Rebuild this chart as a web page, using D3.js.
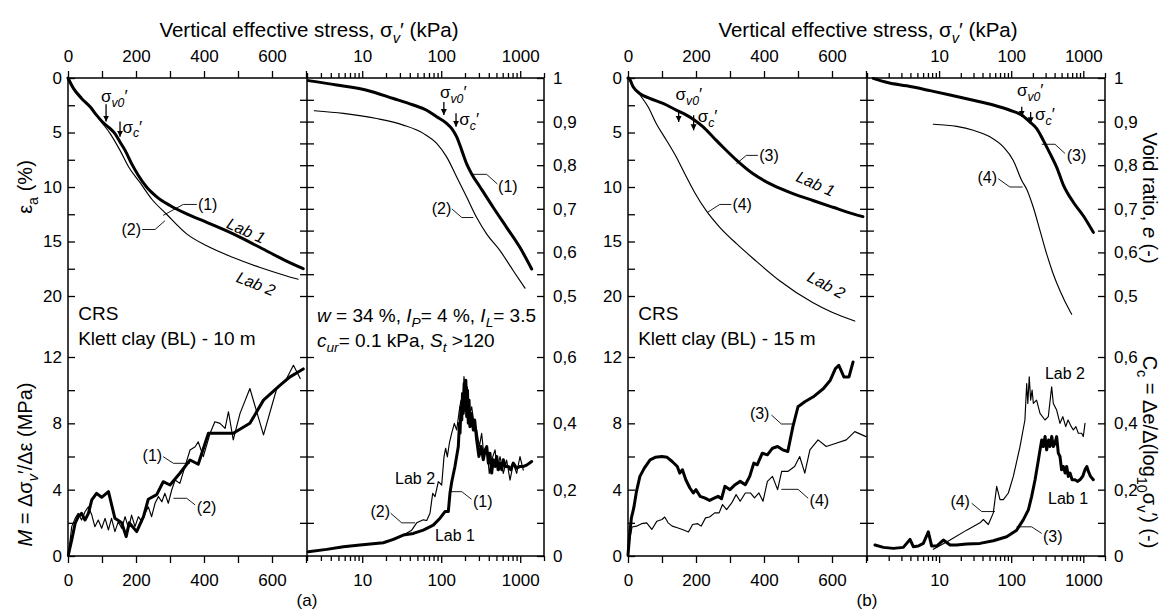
<!DOCTYPE html>
<html><head><meta charset="utf-8">
<script src="https://cdn.jsdelivr.net/npm/d3@7"></script>
<style>
body{margin:0;background:#fff;}
svg text{font-family:"Liberation Sans",Arial,Helvetica,sans-serif;fill:#000;}
</style></head><body>
<script>
// ---------------- DATA ----------------
// (a) 10 m — strain vs stress (kPa, %)
const epsA_lab1 = [[0,0],[16,0.95],[40,1.87],[65,2.64],[84,3.41],[104,4.12],[124,4.64],[138,5.1],[153,5.87],[168,6.64],[187,7.86],[207,8.94],[231,10.0],[261,10.9],[300,11.7],[349,12.47],[408,13.24],[486,14.3],[565,15.55],[643,16.8],[692,17.5]];
const epsA_lab2 = [[0,0],[16,0.95],[40,1.87],[65,2.64],[84,3.41],[100,4.1],[124,5.1],[153,6.64],[178,8.14],[211,9.56],[246,11.1],[290,12.5],[349,14.3],[408,15.4],[486,16.47],[565,17.39],[643,18.16],[677,18.46]];
// (a) void ratio vs stress
const eA_lab1 = [[2.08,0.994],[4.75,0.984],[11.4,0.972],[24.8,0.953],[44.4,0.938],[65.5,0.926],[87.6,0.911],[117,0.896],[136,0.884],[157,0.865],[182,0.834],[210,0.803],[243,0.78],[310,0.75],[456,0.703],[675,0.657],[994,0.611],[1397,0.562]];
const eA_lab2 = [[2.48,0.925],[5.77,0.919],[15.2,0.907],[33.1,0.892],[59.3,0.873],[87.6,0.85],[117,0.819],[157,0.773],[210,0.727],[281,0.68],[377,0.642],[555,0.604],[817,0.558],[1149,0.518]];
// (a) modulus M (MPa)
const MA_lab1 = [[1,0.06],[11,0.97],[21,1.97],[30,2.37],[40,2.57],[50,2.17],[60,2.57],[70,3.38],[84,3.78],[99,3.54],[119,3.88],[138,2.27],[158,2.0],[171,1.17],[180,2.0],[202,1.47],[222,2.37],[236,3.42],[261,3.7],[280,4.48],[300,4.28],[329,4.99],[359,5.79],[383,5.53],[413,7.4],[486,7.4],[535,8.0],[575,9.4],[624,10.3],[653,10.8],[682,11.16],[692,11.28]];
const MA_lab2 = [[1,0.06],[11,1.77],[21,2.27],[30,2.57],[40,2.17],[50,2.67],[60,2.97],[70,2.47],[79,1.77],[89,2.17],[99,1.67],[109,2.27],[119,1.57],[128,2.27],[138,1.47],[148,2.07],[158,1.67],[168,2.37],[178,1.67],[187,2.47],[197,1.77],[207,2.37],[217,2.07],[227,2.57],[236,2.97],[246,2.37],[256,3.18],[266,3.58],[276,3.27],[285,3.78],[295,3.18],[305,3.98],[315,4.58],[329,4.38],[344,5.39],[359,6.39],[374,6.59],[383,6.89],[398,5.99],[418,7.4],[432,8.1],[447,8.0],[462,7.7],[472,8.7],[486,7.0],[506,8.6],[535,10.1],[575,7.3],[614,10.1],[643,10.7],[663,11.5],[683,10.7]];
// (a) compression index Cc
const CcA_lab1 = [[2.08,0.013],[3.55,0.02],[5.77,0.028],[9.38,0.033],[18.5,0.04],[24.8,0.05],[33.1,0.063],[44.4,0.068],[59.3,0.078],[79.4,0.093],[96.6,0.114],[111.6,0.134],[123,0.134],[129,0.189],[136,0.224],[149,0.269],[164.6,0.33],[170,0.40],[173,0.37],[178,0.45],[182,0.41],[186,0.49],[190,0.43],[195,0.52],[200,0.44],[205,0.53],[210,0.42],[215,0.50],[220,0.40],[225,0.47],[231,0.39],[240,0.43],[255,0.38],[265,0.41],[281,0.35],[300,0.30],[320,0.33],[341,0.29],[360,0.32],[377,0.33],[395,0.28],[414,0.31],[435,0.25],[456,0.29],[480,0.27],[504,0.30],[530,0.26],[555,0.28],[585,0.26],[611,0.29],[650,0.27],[707,0.27],[760,0.26],[817,0.28],[900,0.265],[994,0.27],[1100,0.27],[1208,0.274],[1397,0.285]];
const CcA_lab2 = [[2.08,0.013],[9.38,0.033],[18.5,0.04],[33.1,0.063],[42.3,0.078],[48.9,0.10],[59.4,0.109],[65.5,0.107],[72.1,0.129],[78,0.189],[83.4,0.179],[91.9,0.224],[101.4,0.214],[108.4,0.299],[113.8,0.325],[119.5,0.299],[126.8,0.34],[135.6,0.37],[146.6,0.40],[157,0.38],[169.6,0.44],[178,0.47],[186.9,0.43],[194,0.541],[204,0.48],[214,0.51],[227,0.42],[243,0.45],[260,0.40],[281,0.38],[304,0.33],[325,0.37],[348,0.30],[376,0.33],[406,0.249],[435,0.289],[480,0.32],[513,0.259],[555,0.30],[611,0.249],[673,0.289],[743,0.229],[818,0.279],[902,0.249],[993,0.30],[1094,0.259]];
// (b) 15 m
const epsB_lab1 = [[0,0],[3,0.03],[15,0.8],[34,1.41],[64,1.87],[103,2.33],[142,2.95],[172,3.41],[196,3.87],[221,4.49],[250,5.41],[279,6.33],[319,7.53],[368,8.79],[426,9.83],[485,10.6],[544,11.24],[603,11.86],[662,12.47],[691,12.72]];
const epsB_lab2 = [[0,0],[20,0.95],[39,1.72],[59,2.64],[83,4.18],[113,5.71],[142,7.25],[167,8.79],[196,10.5],[230,12.17],[270,13.7],[319,15.2],[377,16.8],[446,18.6],[543,20.6],[600,21.5],[667,22.3]];
const eB_lab1 = [[1.22,0.999],[1.98,0.989],[3.55,0.982],[7.48,0.971],[14.2,0.961],[29.8,0.949],[56.5,0.938],[96.2,0.926],[139.8,0.915],[182,0.899],[225.6,0.884],[279,0.857],[345,0.827],[428,0.795],[528,0.755],[727,0.715],[1000,0.684],[1377,0.646]];
const eB_lab2 = [[8.31,0.894],[17.5,0.889],[29.8,0.88],[50.8,0.865],[77.8,0.842],[107,0.811],[140,0.765],[164,0.745],[203,0.703],[251,0.65],[311,0.596],[384,0.55],[475,0.512],[654,0.465],[690,0.458]];
const MB_lab1 = [[0,0.05],[5,1.3],[10,2.3],[17,2.9],[25,3.9],[35,4.8],[48,5.3],[65,5.8],[80,5.95],[100,6.0],[115,5.95],[130,5.7],[145,5.4],[152,5.0],[160,5.2],[170,4.6],[182,4.1],[192,3.8],[200,4.0],[212,3.6],[225,3.5],[240,3.35],[255,3.5],[265,3.6],[275,3.45],[285,4.2],[300,4.0],[315,4.3],[330,4.5],[345,4.3],[358,4.8],[370,5.6],[380,5.5],[395,6.2],[410,6.1],[425,6.5],[440,6.6],[455,6.4],[470,6.3],[485,7.8],[500,9.0],[520,9.3],[545,9.6],[575,10.1],[595,10.6],[610,11.3],[620,11.5],[635,10.8],[650,10.8],[662,11.7]];
const MB_lab2 = [[0,0.1],[5,1.0],[12,1.75],[25,1.8],[40,1.95],[55,2.0],[70,1.6],[85,2.1],[100,2.2],[108,2.35],[118,2.0],[130,1.8],[145,1.7],[160,1.6],[178,1.45],[190,1.9],[205,1.95],[215,1.8],[228,2.3],[240,2.35],[255,2.6],[268,2.6],[278,3.1],[290,2.8],[305,3.2],[318,3.7],[330,3.3],[345,3.8],[360,3.8],[372,3.5],[385,3.8],[397,3.3],[410,4.5],[425,4.8],[440,4.0],[452,5.1],[470,5.1],[490,5.4],[505,6.0],[520,5.0],[535,6.4],[559,7.0],[583,6.6],[612,6.8],[642,7.0],[667,7.5],[700,7.2]];
const CcB_lab1 = [[1.29,0.033],[1.69,0.026],[2.32,0.023],[3.19,0.026],[3.55,0.038],[3.95,0.05],[4.39,0.028],[5.15,0.03],[6.04,0.038],[7.09,0.073],[7.89,0.030],[9.25,0.030],[11.45,0.048],[14.2,0.033],[17.5,0.033],[24.1,0.036],[36.9,0.038],[56.5,0.046],[86.5,0.058],[119,0.078],[147,0.109],[173,0.139],[192,0.179],[214,0.229],[238,0.289],[251,0.32],[265,0.35],[279,0.33],[295,0.36],[310,0.32],[330,0.35],[345,0.33],[365,0.36],[384,0.33],[405,0.34],[427,0.36],[450,0.31],[475,0.30],[500,0.26],[528,0.27],[560,0.25],[588,0.27],[620,0.24],[654,0.25],[700,0.23],[767,0.23],[830,0.225],[900,0.23],[980,0.24],[1056,0.26],[1120,0.27],[1175,0.255],[1260,0.24],[1378,0.23]];
const CcB_lab2 = [[8.32,0.02],[14.2,0.048],[24.1,0.078],[36.9,0.10],[41.1,0.11],[48.2,0.095],[56.5,0.13],[62.9,0.21],[69.9,0.17],[77.8,0.17],[91.3,0.19],[107,0.24],[132.5,0.33],[155,0.41],[164,0.52],[170,0.46],[178,0.54],[186,0.47],[195,0.50],[203,0.46],[225,0.47],[251,0.43],[294,0.41],[327,0.42],[364,0.51],[384,0.46],[427,0.44],[475,0.40],[520,0.42],[570,0.39],[614,0.41],[682,0.39],[727,0.38],[790,0.39],[853,0.37],[949,0.37],[1000,0.36],[1056,0.40]];

// tick values / labels
const linTicks = [0,100,200,300,400,500,600,700];
const linLabels = [0,200,400,600];
const logLabels = [10,100,1000];
const epsTicks = [0,2.5,5,7.5,10,12.5,15,17.5,20];
const epsLabels = [0,5,10,15,20];
const mTicks = [0,2,4,6,8,10,12];
const mLabels = [0,4,8,12];
const eTicks = [1,0.95,0.9,0.85,0.8,0.75,0.7,0.65,0.6,0.55,0.5];
const eLabels = [1,0.9,0.8,0.7,0.6,0.5];
const ccTicks = [0,0.1,0.2,0.3,0.4,0.5,0.6];
const ccLabels = [0,0.2,0.4,0.6];

// ---------------- SCALES ----------------
const TOP=78, BOT=556;
const xLinA = d3.scaleLinear([0,700],[68,306]);
const xLogA = d3.scaleLog([2,2000],[307,544]);
const xLinB = d3.scaleLinear([0,700],[628,866]);
const xLogB = d3.scaleLog([1,2000],[867,1105]);
const yEps = d3.scaleLinear([0,20],[TOP,296]);
const yE = d3.scaleLinear([1,0.5],[TOP,296]);
const yM = d3.scaleLinear([0,12],[BOT,357]);
const yCc = d3.scaleLinear([0,0.6],[BOT,357]);

const svg = d3.select("body").append("svg").attr("width",1164).attr("height",610);
const defs = svg.append("defs");
defs.append("marker").attr("id","ah").attr("viewBox","0 0 10 10").attr("refX",10).attr("refY",5)
  .attr("markerUnits","userSpaceOnUse").attr("markerWidth",6).attr("markerHeight",7).attr("orient","auto")
  .append("path").attr("d","M0,0L10,5L0,10Z").attr("fill","#000");

const fmtComma = d => d===0||d===1 ? String(d) : d3.format(".1f")(d).replace(".",",");
function styleAxis(g, fs){
  g.select(".domain").remove();
  g.attr("font-family",null).attr("font-size",null);
  g.selectAll("line").attr("stroke","#000").attr("stroke-width",1.3);
  g.selectAll("text").attr("font-size",fs||17).attr("fill","#000");
}
function logTicks(sc){
  const [a,b]=sc.domain();
  return [1,10,100,1000].flatMap(d=>[1,2,3,4,5,6,7,8,9].map(m=>m*d)).filter(v=>v>=a-1e-9&&v<=b+1e-9);
}

// frames
function frame(x0,xm,x1){
  svg.append("path").attr("d",`M${x0},${TOP}H${x1}V${BOT}H${x0}Z M${xm},${TOP}V${BOT}`)
    .attr("fill","none").attr("stroke","#000").attr("stroke-width",1.5);
}
frame(xLinA(0),xLogA(2),xLogA(2000));
frame(xLinB(0),xLogB(1),xLogB(2000));

function xAxes(xl, xg){
  svg.append("g").attr("transform",`translate(0,${TOP})`)
    .call(d3.axisTop(xl).tickValues(linTicks).tickSize(7).tickPadding(9).tickFormat(d=>linLabels.includes(d)?d:""))
    .call(styleAxis);
  svg.append("g").attr("transform",`translate(0,${BOT})`)
    .call(d3.axisBottom(xl).tickValues(linTicks).tickSize(7).tickPadding(11).tickFormat(d=>linLabels.includes(d)?d:""))
    .call(styleAxis);
  const gt = svg.append("g").attr("transform",`translate(0,${TOP})`)
    .call(d3.axisTop(xg).tickValues(logTicks(xg)).tickSize(5).tickPadding(11).tickFormat(d=>logLabels.includes(d)?d:""))
    .call(styleAxis);
  gt.selectAll(".tick").filter(d=>logLabels.includes(d)).select("line").attr("y2",-7);
  const gb = svg.append("g").attr("transform",`translate(0,${BOT})`)
    .call(d3.axisBottom(xg).tickValues(logTicks(xg)).tickSize(5).tickPadding(13).tickFormat(d=>logLabels.includes(d)?d:""))
    .call(styleAxis);
  gb.selectAll(".tick").filter(d=>logLabels.includes(d)).select("line").attr("y2",7);
}
xAxes(xLinA,xLogA);
xAxes(xLinB,xLogB);

function yAxes(xl, xm, xr){
  svg.append("g").attr("transform",`translate(${xl},0)`)
    .call(d3.axisLeft(yEps).tickValues(epsTicks).tickSize(-7).tickPadding(6).tickFormat(d=>epsLabels.includes(d)?d:""))
    .call(styleAxis);
  svg.append("g").attr("transform",`translate(${xl},0)`)
    .call(d3.axisLeft(yM).tickValues(mTicks).tickSize(-7).tickPadding(6).tickFormat(d=>mLabels.includes(d)?d:""))
    .call(styleAxis);
  // middle crossing ticks
  [d3.axisLeft, d3.axisRight].forEach(ax=>{
    svg.append("g").attr("transform",`translate(${xm},0)`)
      .call(ax(yE).tickValues(eTicks.filter(v=>v<1)).tickSize(7).tickFormat(""))
      .call(styleAxis);
    svg.append("g").attr("transform",`translate(${xm},0)`)
      .call(ax(yCc).tickValues(ccTicks.filter(v=>v>0)).tickSize(7).tickFormat(""))
      .call(styleAxis);
  });
  svg.append("g").attr("transform",`translate(${xr},0)`)
    .call(d3.axisRight(yE).tickValues(eTicks).tickSize(-7).tickPadding(9).tickFormat(d=>eLabels.some(v=>Math.abs(v-d)<1e-9)?fmtComma(d):""))
    .call(styleAxis);
  svg.append("g").attr("transform",`translate(${xr},0)`)
    .call(d3.axisRight(yCc).tickValues(ccTicks).tickSize(-7).tickPadding(9).tickFormat(d=>ccLabels.some(v=>Math.abs(v-d)<1e-9)?fmtComma(d):""))
    .call(styleAxis);
}
yAxes(xLinA(0),xLogA(2),xLogA(2000));
yAxes(xLinB(0),xLogB(1),xLogB(2000));

// ---------------- CURVES ----------------
function curve(data, xs, ys, w, smooth){
  const line = d3.line().x(d=>xs(d[0])).y(d=>ys(d[1]));
  if(smooth) line.curve(d3.curveMonotoneX);
  svg.append("path").datum(data).attr("d",line).attr("fill","none")
    .attr("stroke","#000").attr("stroke-width",w).attr("stroke-linejoin","round").attr("stroke-linecap","round");
}
const THICK=3, THIN=1.15;
curve(epsA_lab2,xLinA,yEps,THIN,true);
curve(epsA_lab1,xLinA,yEps,THICK,true);
curve(eA_lab2,xLogA,yE,THIN,true);
curve(eA_lab1,xLogA,yE,THICK,true);
curve(MA_lab2,xLinA,yM,THIN,false);
curve(MA_lab1,xLinA,yM,THICK,false);
curve(CcA_lab2,xLogA,yCc,THIN,false);
curve(CcA_lab1,xLogA,yCc,THICK,false);
curve(epsB_lab2,xLinB,yEps,THIN,true);
curve(epsB_lab1,xLinB,yEps,THICK,true);
curve(eB_lab2,xLogB,yE,THIN,true);
curve(eB_lab1,xLogB,yE,THICK,true);
curve(MB_lab2,xLinB,yM,THIN,false);
curve(MB_lab1,xLinB,yM,THICK,false);
curve(CcB_lab2,xLogB,yCc,THIN,false);
curve(CcB_lab1,xLogB,yCc,THICK,false);

// ---------------- TEXT HELPERS ----------------
function rich(sel, segs, size){
  let shift=0;
  segs.forEach(s=>{
    const ts = sel.append("tspan").text(s.t);
    const target = s.sub ? size*0.28 : 0;
    if(target-shift!==0) ts.attr("dy",target-shift);
    shift=target;
    if(s.sub) ts.attr("font-size",size*0.72);
    if(s.it) ts.attr("font-style","italic");
  });
  return sel;
}
function label(x,y,segs,opts={}){
  const size=opts.size||16;
  const t = svg.append("text").attr("font-size",size).attr("text-anchor",opts.anchor||"start");
  if(opts.rot!==undefined) t.attr("transform",`translate(${x},${y}) rotate(${opts.rot})`);
  else t.attr("x",x).attr("y",y);
  if(opts.dy) t.attr("dy",opts.dy);
  if(opts.italic) t.attr("font-style","italic");
  rich(t, typeof segs==="string"?[{t:segs}]:segs, size);
  return t;
}
function leader(pts, xs, ys){
  svg.append("path").attr("d",d3.line().x(d=>xs(d[0])).y(d=>ys(d[1]))(pts))
    .attr("fill","none").attr("stroke","#000").attr("stroke-width",0.9);
}
function arrow(s, v0, v1, xs, ys){
  svg.append("line").attr("x1",xs(s)).attr("x2",xs(s)).attr("y1",ys(v0)).attr("y2",ys(v1))
    .attr("stroke","#000").attr("stroke-width",1.3).attr("marker-end","url(#ah)");
}
const SV0=[{t:"σ"},{t:"v0",sub:true,it:true},{t:"′"}];
const SC=[{t:"σ"},{t:"c",sub:true,it:true},{t:"′"}];

// ---------------- TITLES ----------------
const titleSegs=[{t:"Vertical effective stress, σ"},{t:"v",sub:true,it:true},{t:"′ (kPa)"}];
label(xLogA(2)+2,37,titleSegs,{size:20.5,anchor:"middle"});
label(xLogB(1)+1,37,titleSegs,{size:20.5,anchor:"middle"});
label(xLogA(2),606,"(a)",{size:17,anchor:"middle"});
label(xLogB(1),606,"(b)",{size:17,anchor:"middle"});
label(32,yEps(10),[{t:"ε"},{t:"a",sub:true},{t:" (%)"}],{size:20,anchor:"middle",rot:-90});
label(32,(yM(0)+yM(12))/2+8,[{t:"M",it:true},{t:" = Δσ"},{t:"v",sub:true,it:true},{t:"′/Δε (MPa)"}],{size:20,anchor:"middle",rot:-90});
label(1143,198,[{t:"Void ratio, "},{t:"e",it:true},{t:" (-)"}],{size:20,anchor:"middle",rot:90});
label(1143,452,[{t:"C"},{t:"c",sub:true},{t:" = Δe/Δ(log"},{t:"10",sub:true},{t:"σ"},{t:"v",sub:true},{t:"′) (-)"}],{size:20,anchor:"middle",rot:90});

// ---------------- ANNOTATIONS (a) ----------------
arrow(112,2.4,4.0,xLinA,yEps); arrow(153,4.0,5.4,xLinA,yEps);
label(xLinA(97),yEps(2.2),SV0,{size:17});
label(xLinA(160),yEps(5.0),SC,{size:17});
leader([[280,12.6],[339,11.6],[379,11.6]],xLinA,yEps);
label(xLinA(382),yEps(11.6),"(1)",{dy:"0.35em"});
leader([[285,13.1],[256,13.9],[218,13.9]],xLinA,yEps);
label(xLinA(215),yEps(13.9),"(2)",{dy:"0.35em",anchor:"end"});
label(xLinA(515),yEps(14.6),"Lab 1",{rot:24,anchor:"middle",italic:true,dy:"-0.1em"});
label(xLinA(559),yEps(18.4),"Lab 2",{rot:22,anchor:"middle",italic:true,dy:"0.7em"});

arrow(108,0.945,0.915,xLogA,yE); arrow(154,0.919,0.888,xLogA,yE);
label(xLogA(96.5),yE(0.953),SV0,{size:17});
label(xLogA(169.5),yE(0.892),SC,{size:17});
leader([[250,0.779],[376,0.779],[513,0.757]],xLogA,yE);
label(xLogA(525),yE(0.752),"(1)",{dy:"0.35em"});
leader([[255,0.680],[182,0.680],[136,0.700]],xLogA,yE);
label(xLogA(134),yE(0.700),"(2)",{dy:"0.35em",anchor:"end"});

label(xLinA(30),320,"CRS",{size:19});
label(xLinA(30),345,"Klett clay (BL) - 10 m",{size:19});
leader([[280,5.99],[310,5.59],[359,5.59]],xLinA,yM);
label(xLinA(277),yM(6.05),"(1)",{dy:"0.35em",anchor:"end"});
leader([[374,3.08],[349,3.48],[310,3.48]],xLinA,yM);
label(xLinA(379),yM(2.92),"(2)",{dy:"0.35em"});

label(xLogA(2)+10,322,[{t:"w",it:true},{t:" = 34 %, "},{t:"I",it:true},{t:"P",sub:true,it:true},{t:"= 4 %, "},{t:"I",it:true},{t:"L",sub:true,it:true},{t:"= 3.5"}],{size:19});
label(xLogA(2)+10,347,[{t:"c",it:true},{t:"ur",sub:true,it:true},{t:"= 0.1 kPa, "},{t:"S",it:true},{t:"t",sub:true,it:true},{t:" >120"}],{size:19});
label(xLogA(46.6),yCc(0.235),"Lab 2",{anchor:"middle",dy:"0.35em"});
label(xLogA(149),yCc(0.063),"Lab 1",{anchor:"middle",dy:"0.35em"});
leader([[22.9,0.129],[31.6,0.100],[46.6,0.100]],xLogA,yCc);
label(xLogA(22.5),yCc(0.133),"(2)",{dy:"0.35em",anchor:"end"});
leader([[242,0.171],[182,0.194],[129,0.194]],xLogA,yCc);
label(xLogA(252),yCc(0.164),"(1)",{dy:"0.35em"});

// ---------------- ANNOTATIONS (b) ----------------
arrow(149,2.95,4.03,xLinB,yEps); arrow(193,3.41,4.8,xLinB,yEps);
label(xLinB(140),yEps(2.0),SV0,{size:17});
label(xLinB(205),yEps(4.06),SC,{size:17});
leader([[319,7.86],[348,7.1],[382,7.1]],xLinB,yEps);
label(xLinB(386),yEps(7.1),"(3)",{dy:"0.35em"});
leader([[235,12.3],[270,11.6],[304,11.6]],xLinB,yEps);
label(xLinB(307),yEps(11.6),"(4)",{dy:"0.35em"});
label(xLinB(543),yEps(10.3),"Lab 1",{rot:24,anchor:"middle",italic:true,dy:"-0.1em"});
label(xLinB(578),yEps(19.3),"Lab 2",{rot:28,anchor:"middle",italic:true,dy:"0.1em"});

arrow(140,0.934,0.911,xLogB,yE); arrow(186,0.922,0.896,xLogB,yE);
label(xLogB(120),yE(0.959),SV0,{size:17});
label(xLogB(214),yE(0.903),SC,{size:17});
leader([[265,0.848],[405,0.848],[557,0.827]],xLogB,yE);
label(xLogB(589),yE(0.822),"(3)",{dy:"0.35em"});
leader([[144,0.750],[96,0.750],[66,0.769]],xLogB,yE);
label(xLogB(63.5),yE(0.771),"(4)",{dy:"0.35em",anchor:"end"});

label(xLinB(30),320,"CRS",{size:19});
label(xLinB(30),345,"Klett clay (BL) - 15 m",{size:19});
leader([[422,8.5],[451,7.96],[485,7.96]],xLinB,yM);
label(xLinB(416),yM(8.62),"(3)",{dy:"0.35em",anchor:"end"});
leader([[530,3.48],[500,4.02],[451,4.02]],xLinB,yM);
label(xLinB(534),yM(3.38),"(4)",{dy:"0.35em"});

label(xLogB(557),yCc(0.552),"Lab 2",{anchor:"middle",dy:"0.35em"});
label(xLogB(614),yCc(0.175),"Lab 1",{anchor:"middle",dy:"0.35em"});
leader([[28.3,0.159],[39,0.134],[59.6,0.134]],xLogB,yCc);
label(xLogB(26.8),yCc(0.164),"(4)",{dy:"0.35em",anchor:"end"});
leader([[265,0.068],[192,0.088],[119,0.088]],xLogB,yCc);
label(xLogB(276),yCc(0.058),"(3)",{dy:"0.35em"});
</script></body></html>
